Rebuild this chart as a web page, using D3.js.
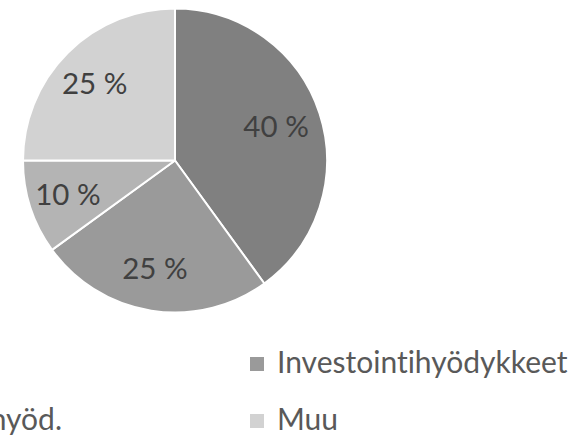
<!DOCTYPE html>
<html>
<head>
<meta charset="utf-8">
<script src="https://cdn.jsdelivr.net/npm/d3@7"></script>
<style>
  html, body { margin: 0; padding: 0; background: #ffffff; }
  svg { display: block; }
  text { font-variant-ligatures: none; font-feature-settings: "liga" 0; }
</style>
</head>
<body>
<svg id="chart" width="586" height="437"></svg>
<script>
const categories = ["Raaka-aineet", "Investointihyödykkeet", "Kestokulutushyöd.", "Muu"];
const values = [40, 25, 10, 25];
const labels = ["40 %", "25 %", "10 %", "25 %"];
const colors = ["#808080", "#9a9a9a", "#b4b4b4", "#d2d2d2"];

const svg = d3.select("#chart");
const cx = 175, cy = 160.5, r = 152;
const fontFam = "Lato, 'Open Sans', sans-serif";

const pie = d3.pie().sort(null).value(d => d)(values);
const arc = d3.arc().innerRadius(0).outerRadius(r);
const labelArc = d3.arc().innerRadius(r * 0.72).outerRadius(r * 0.72);

const g = svg.append("g").attr("transform", `translate(${cx},${cy})`);
g.selectAll("path.slice").data(pie).join("path")
  .attr("class", "slice")
  .attr("d", arc)
  .attr("fill", (d, i) => colors[i])
  .attr("stroke", "#ffffff")
  .attr("stroke-width", 2)
  .attr("stroke-linejoin", "round");

g.selectAll("text.lbl").data(pie).join("text")
  .attr("class", "lbl")
  .attr("x", d => labelArc.centroid(d)[0] - 3)
  .attr("y", d => labelArc.centroid(d)[1] + 10.5)
  .attr("text-anchor", "middle")
  .attr("font-family", fontFam)
  .attr("font-size", 29.5)
  .attr("fill", "#404040")
  .text((d, i) => labels[i]);

// Legend: two columns, row-major
const rowBase = [373, 430];
const col2MarkerX = 250, textGap = 27, markerSize = 14;
const legendSize = 30;
const legend = svg.append("g");
const tmp = legend.append("text").attr("font-family", fontFam).attr("font-size", legendSize).text(categories[2]);
const w2 = tmp.node().getComputedTextLength();
tmp.remove();
const col1TextX = 62 - w2;
const colTextX = [col1TextX, col2MarkerX + textGap];

categories.forEach((c, i) => {
  const col = i % 2, row = Math.floor(i / 2);
  const tx = colTextX[col];
  const base = rowBase[row];
  legend.append("rect")
    .attr("x", tx - textGap)
    .attr("y", base - 16)
    .attr("width", markerSize)
    .attr("height", markerSize)
    .attr("fill", colors[i]);
  legend.append("text")
    .attr("x", tx)
    .attr("y", base)
    .attr("font-family", fontFam)
    .attr("font-size", legendSize)
    .attr("fill", "#595959")
    .text(c);
});
</script>
</body>
</html>
